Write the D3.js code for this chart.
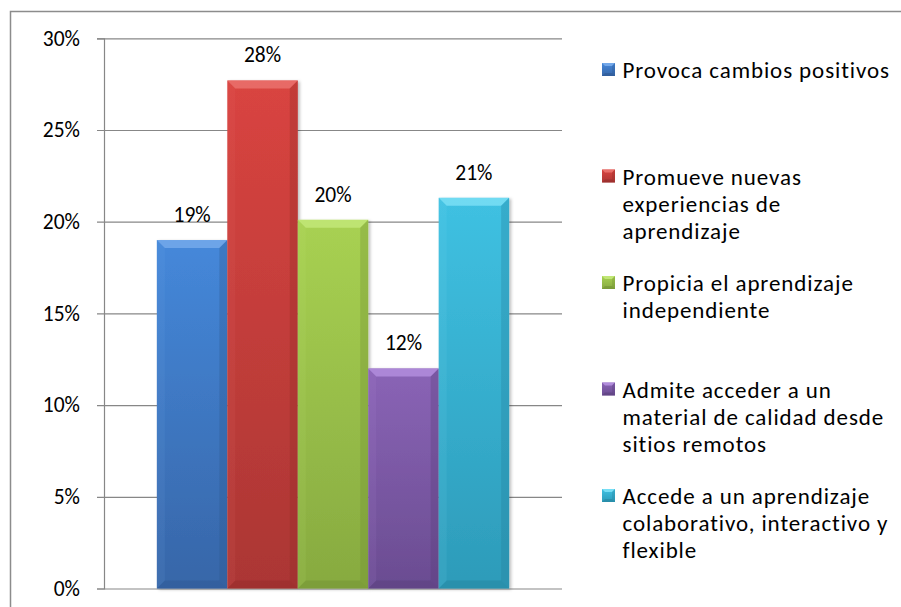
<!DOCTYPE html>
<html>
<head>
<meta charset="utf-8">
<script src="https://cdn.jsdelivr.net/npm/d3@7"></script>
<style>
  html, body { margin: 0; padding: 0; background: #fff; }
  svg { display: block; }
  text { font-family: Carlito, Lato, "Open Sans", sans-serif; fill: #000; }
</style>
</head>
<body>
<svg id="chart" width="901" height="607"></svg>
<script>
// Categories (one bar each) and their shares
const categories = [
  "Provoca cambios positivos",
  "Promueve nuevas experiencias de aprendizaje",
  "Propicia el aprendizaje independiente",
  "Admite acceder a un material de calidad desde sitios remotos",
  "Accede a un aprendizaje colaborativo, interactivo y flexible"
];
const values = [0.19, 0.277, 0.201, 0.12, 0.213];
// Legend text as it wraps in the legend box
const legendLines = [
  ["Provoca cambios positivos"],
  ["Promueve nuevas", "experiencias de", "aprendizaje"],
  ["Propicia el aprendizaje", "independiente"],
  ["Admite acceder a un", "material de calidad desde", "sitios remotos"],
  ["Accede a un aprendizaje", "colaborativo, interactivo y", "flexible"]
];
const yTicks = [0, 0.05, 0.10, 0.15, 0.20, 0.25, 0.30];
// Bar palette: [top, bottom, bevel highlight, bevel shade]
const palette = [
  ["#4588da", "#3766a8", "#7fb0ee", "#2c5690"],
  ["#d94440", "#ab3634", "#ee7a76", "#8e2a28"],
  ["#a8d152", "#87aa40", "#c8ec80", "#6e8c32"],
  ["#8a64b6", "#6a4c91", "#bb97e6", "#573d78"],
  ["#3fc1e2", "#2d9bb9", "#86e6fa", "#237f99"]
];

const svg = d3.select("#chart");
const axisFont = 21.5;
const legendFont = 23;

// Outer chart frame (runs off the right and bottom edges)
svg.append("rect")
  .attr("x", 10.5).attr("y", 11.5)
  .attr("width", 1000).attr("height", 1000)
  .attr("fill", "none").attr("stroke", "#8c8c8c").attr("stroke-width", 1.5);

const plot = { left: 104, right: 562, top: 38.3, bottom: 588.5 };

const y = d3.scaleLinear().domain([0, 0.3]).range([plot.bottom, plot.top]);
const x = d3.scaleBand().domain(categories)
  .range([plot.left, plot.right])
  .paddingInner(0).paddingOuter(0.75);

const defs = svg.append("defs");
palette.forEach((c, i) => {
  const g = defs.append("linearGradient").attr("id", "grad" + i)
    .attr("x1", 0).attr("y1", 0).attr("x2", 0).attr("y2", 1);
  g.append("stop").attr("offset", "0%").attr("stop-color", c[0]);
  g.append("stop").attr("offset", "100%").attr("stop-color", c[1]);
});
const shadow = defs.append("filter").attr("id", "shadow")
  .attr("x", "-10%").attr("y", "-10%").attr("width", "130%").attr("height", "120%");
shadow.append("feDropShadow").attr("dx", 2).attr("dy", 1)
  .attr("stdDeviation", 1.5).attr("flood-color", "#000").attr("flood-opacity", 0.25);

// Gridlines with outward tick marks
const grid = svg.append("g").attr("transform", `translate(${plot.left},0)`)
  .call(d3.axisLeft(y).tickValues(yTicks)
    .tickSizeInner(-(plot.right - plot.left)).tickSizeOuter(0).tickFormat(""));
grid.select(".domain").remove();
grid.selectAll(".tick line").attr("stroke", "#878787").attr("stroke-width", 1.2)
  .attr("x1", -7);

// Y axis with percentage labels
const yAxis = svg.append("g").attr("transform", `translate(${plot.left},0)`)
  .call(d3.axisLeft(y).tickValues(yTicks).tickFormat(d3.format(".0%"))
    .tickSize(7).tickPadding(17));
yAxis.select(".domain").attr("stroke", "#878787").attr("stroke-width", 1.2);
yAxis.selectAll(".tick line").attr("stroke", "none");
yAxis.selectAll(".tick text").attr("font-size", axisFont)
  .attr("font-family", "Carlito, Lato, sans-serif").attr("fill", "#000");

// Bevelled bars
function bevel(x0, y0, w, h, b) {
  const x1 = x0 + w, y1 = y0 + h;
  return {
    top: [[x0, y0], [x1, y0], [x1 - b, y0 + b], [x0 + b, y0 + b]],
    bottom: [[x0, y1], [x1, y1], [x1 - b, y1 - b], [x0 + b, y1 - b]],
    left: [[x0, y0], [x0 + b, y0 + b], [x0 + b, y1 - b], [x0, y1]],
    right: [[x1, y0], [x1 - b, y0 + b], [x1 - b, y1 - b], [x1, y1]]
  };
}
const pts = p => p.map(d => d.join(",")).join(" ");

const bars = svg.append("g").selectAll("g.bar")
  .data(categories.map((c, i) => ({ c, v: values[i], i })))
  .join("g").attr("class", "bar");

bars.each(function(d) {
  const g = d3.select(this);
  const bx = x(d.c), bw = x.bandwidth();
  const by = y(d.v), bh = y(0) - y(d.v);
  const col = palette[d.i];
  const bv = bevel(bx, by, bw, bh, 8);
  g.append("rect").attr("x", bx).attr("y", by).attr("width", bw).attr("height", bh)
    .attr("fill", `url(#grad${d.i})`).attr("filter", "url(#shadow)");
  g.append("polygon").attr("points", pts(bv.top)).attr("fill", col[2]).attr("opacity", 0.7);
  g.append("polygon").attr("points", pts(bv.left)).attr("fill", col[2]).attr("opacity", 0.1);
  g.append("polygon").attr("points", pts(bv.right)).attr("fill", col[3]).attr("opacity", 0.3);
  g.append("polygon").attr("points", pts(bv.bottom)).attr("fill", col[3]).attr("opacity", 0.4);
});

// Value labels above bars
svg.append("g").selectAll("text")
  .data(categories.map((c, i) => ({ c, v: values[i] })))
  .join("text")
  .attr("x", d => x(d.c) + x.bandwidth() / 2)
  .attr("y", d => y(d.v) - 18)
  .attr("text-anchor", "middle")
  .attr("font-size", axisFont)
  .text(d => d3.format(".0%")(d.v));

// Legend
const legendTop = 62, legendStep = 106.5, linePitch = 27;
const legend = svg.append("g").selectAll("g")
  .data(legendLines.map((lines, i) => ({ lines, i })))
  .join("g")
  .attr("transform", d => `translate(602,${legendTop + d.i * legendStep})`);

legend.each(function(d) {
  const g = d3.select(this);
  const col = palette[d.i];
  const s = 13, sy = 1;
  const bv = bevel(0, sy, s, s, 3);
  g.append("rect").attr("x", 0).attr("y", sy).attr("width", s).attr("height", s)
    .attr("fill", `url(#grad${d.i})`);
  g.append("polygon").attr("points", pts(bv.top)).attr("fill", col[2]).attr("opacity", 0.8);
  g.append("polygon").attr("points", pts(bv.bottom)).attr("fill", col[3]).attr("opacity", 0.5);
  g.append("polygon").attr("points", pts(bv.right)).attr("fill", col[3]).attr("opacity", 0.3);
  g.selectAll("text").data(d.lines).join("text")
    .attr("x", 20.5)
    .attr("y", (t, j) => 16 + j * linePitch)
    .attr("font-size", legendFont)
    .attr("letter-spacing", 0.9)
    .text(t => t);
});
</script>
</body>
</html>
